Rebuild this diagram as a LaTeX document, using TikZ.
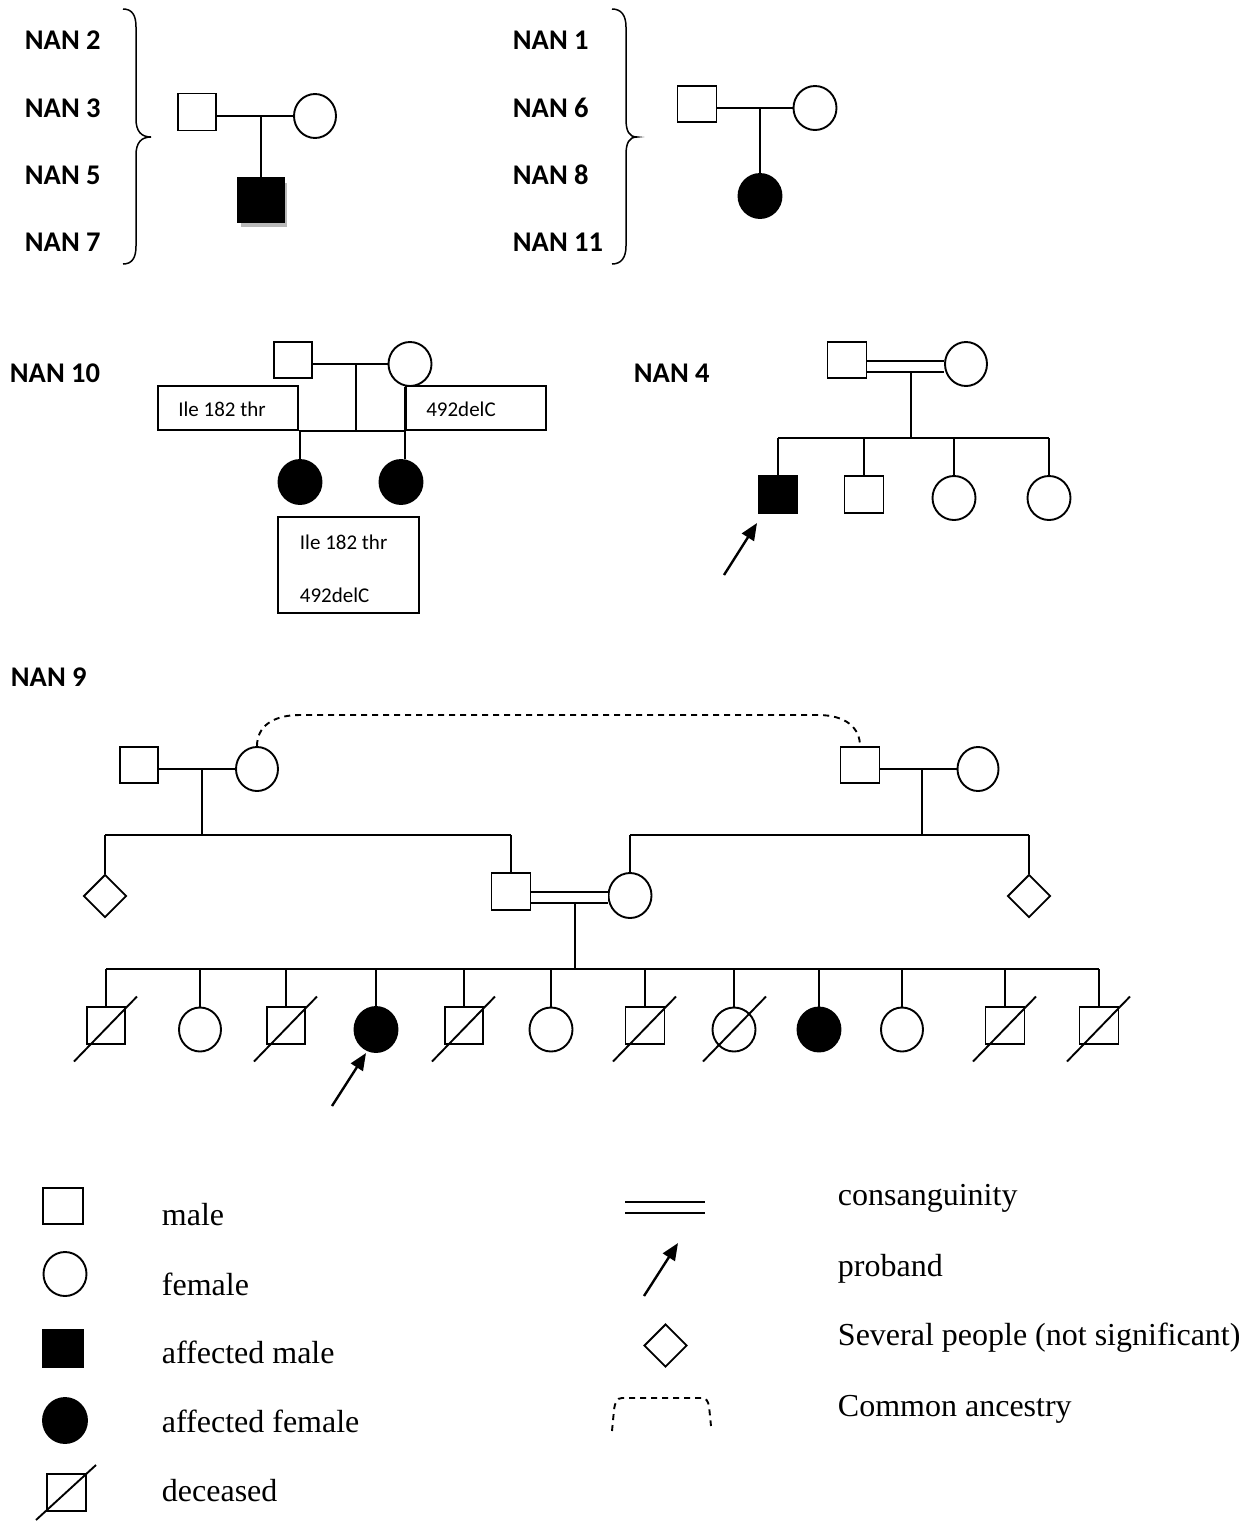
\documentclass[tikz,border=0pt]{standalone}
\usepackage{fontspec}
\setmainfont{Liberation Serif}
\newfontfamily\calfont{Carlito}
\usetikzlibrary{shapes.geometric,arrows.meta,calc}
\begin{document}
\begin{tikzpicture}[x=1pt,y=-1pt,line width=1.9pt,
 male/.style={draw,rectangle,minimum width=38pt,minimum height=37pt,inner sep=0pt},
 female/.style={draw,ellipse,minimum width=42pt,minimum height=44pt,inner sep=0pt},
 affected/.style={fill=black},
 several/.style={draw,diamond,minimum width=43pt,minimum height=43pt,inner sep=0pt},
 nanlabel/.style={font=\calfont\bfseries\fontsize{28.5}{32}\selectfont,anchor=west,inner sep=0pt},
 muttext/.style={font=\calfont\fontsize{21}{24}\selectfont,inner sep=0pt},
 mutbox/.style={draw,rectangle,inner sep=0pt},
 legtext/.style={font=\fontsize{32}{36}\selectfont,anchor=base west,inner sep=0pt},
 consang/.style={double,double distance=9pt},
 ancestry/.style={dash pattern=on 6pt off 5pt},
 proband/.style={-{Triangle[length=17pt,width=14pt]},line width=2.4pt},
 bracepath/.style={line width=1.5pt}
]
\useasboundingbox[fill=white] (0,0) rectangle (1257,1521);

% ---------- NAN 2 / 3 / 5 / 7 ----------
\node[nanlabel] (l2) at (24,40) {NAN 2};
\node[nanlabel] (l3) at (24,108) {NAN 3};
\node[nanlabel] (l5) at (24,175) {NAN 5};
\node[nanlabel] (l7) at (24,242) {NAN 7};
\draw[bracepath] (123,9) .. controls (132,9) and (136,15) .. (136,27) -- (136,119) .. controls (136,131) and (141,137) .. (151,137) .. controls (141,137) and (136,143) .. (136,155) -- (136,246) .. controls (136,258) and (132,264) .. (123,264);
\node[male] (m1) at (197,112) {};
\node[female] (f1) at (315,116) {};
\fill[gray!55] (241,183) rectangle (287,227);
\node[male,affected,minimum width=46pt,minimum height=44pt] (c1) at (261,200) {};
\draw (m1.east |- f1.west) -- (f1.west);
\draw (c1.north |- f1.west) -- (c1.north);

% ---------- NAN 1 / 6 / 8 / 11 ----------
\node[nanlabel] (l1) at (512,40) {NAN 1};
\node[nanlabel] (l6) at (512,108) {NAN 6};
\node[nanlabel] (l8) at (512,175) {NAN 8};
\node[nanlabel] (l11) at (512,242) {NAN 11};
\draw[bracepath] (612,9) .. controls (621,9) and (626,15) .. (626,27) -- (626,119) .. controls (626,131) and (629,137) .. (637,137) .. controls (629,137) and (626,143) .. (626,155) -- (626,246) .. controls (626,258) and (621,264) .. (612,264);
\node[male,minimum width=39pt,minimum height=36pt] (m2) at (697,104) {};
\node[female,minimum width=43pt] (f2) at (815,108) {};
\node[female,affected,minimum width=43pt] (c2) at (760,196) {};
\draw (m2.east |- f2.west) -- (f2.west);
\draw (c2.north |- f2.west) -- (c2.north);

% ---------- NAN 10 ----------
\node[nanlabel] (l10) at (9,373) {NAN 10};
\node[male,minimum height=36pt] (m3) at (293,360) {};
\node[female,minimum width=43pt] (f3) at (410,364) {};
\draw (m3.east |- f3.west) -- (f3.west);
\node[mutbox,minimum width=140pt,minimum height=44pt] (b3l) at (228,408) {};
\node[muttext] (t3l) at (222,409) {Ile 182 thr};
\node[mutbox,minimum width=140pt,minimum height=44pt] (b3r) at (476,408) {};
\node[muttext] (t3r) at (461,409) {492delC};
\coordinate (j3) at (356,364);
\draw (j3) -- (j3 |- b3l.south);
\draw (b3l.south east) -- (b3r.south west);
\node[female,affected,minimum width=43pt] (c3a) at (300,482) {};
\node[female,affected,minimum width=43pt] (c3b) at (401,482) {};
\draw (c3a.north |- b3l.south) -- (c3a.north);
\draw (b3r.west |- f3.south) -- (b3r.west |- c3b.north);
\node[mutbox,minimum width=141pt,minimum height=96pt] (b3c) at (348.5,565) {};
\node[muttext,anchor=west] (t3c1) at (299,542) {Ile 182 thr};
\node[muttext,anchor=west] (t3c2) at (299,595) {492delC};

% ---------- NAN 4 ----------
\node[nanlabel] (l4) at (633,373) {NAN 4};
\node[male,minimum width=39pt,minimum height=36pt] (m4) at (847,360) {};
\node[female] (f4) at (966,364) {};
\coordinate (k4) at ([yshift=-6.5pt]m4.east);
\draw[consang] (k4) -- (k4 -| f4.west);
\coordinate (j4) at (911,372);
\coordinate (s4) at (911,438);
\draw (j4) -- (s4);
\node[male,affected,minimum width=39pt] (c4a) at (778,494.5) {};
\node[male,minimum width=39pt] (c4b) at (864,494.5) {};
\node[female,minimum width=43pt] (c4c) at (954,498) {};
\node[female,minimum width=43pt] (c4d) at (1049,498) {};
\draw (c4a.north |- s4) -- (c4d.north |- s4);
\foreach \c in {c4a,c4b,c4c,c4d} \draw (\c.north |- s4) -- (\c.north);
\coordinate (p4a) at (724,575);
\coordinate (p4b) at (757,523);
\draw[proband] (p4a) -- (p4b);

% ---------- NAN 9 ----------
\node[nanlabel] (l9) at (10,677) {NAN 9};
\node[male,minimum height=36pt] (a1) at (139,765) {};
\node[female] (a2) at (257,769) {};
\draw (a1.east |- a2.west) -- (a2.west);
\coordinate (s1) at (202,835);
\draw (s1 |- a2.west) -- (s1);
\node[several] (d1) at (105,896) {};
\node[male,minimum width=39pt] (m9) at (511,891.5) {};
\draw (d1.north |- s1) -- (m9.north |- s1);
\draw (d1.north |- s1) -- (d1.north);
\draw (m9.north |- s1) -- (m9.north);
\node[female,minimum width=43pt,minimum height=45pt] (f9) at (630,895.5) {};
\node[male,minimum width=39pt,minimum height=36pt] (b1) at (860,765) {};
\node[female,minimum width=41pt] (b2) at (978,769) {};
\draw (b1.east |- b2.west) -- (b2.west);
\coordinate (s2) at (922,835);
\draw (s2 |- b2.west) -- (s2);
\node[several] (d2) at (1029,896) {};
\draw (f9.north |- s2) -- (d2.north |- s2);
\draw (f9.north |- s2) -- (f9.north);
\draw (d2.north |- s2) -- (d2.north);
\coordinate (k9) at ([yshift=-6pt]m9.east);
\draw[consang] (k9) -- (k9 -| f9.west);
\coordinate (j9) at (575,903);
\coordinate (s9) at (575,969);
\draw (j9) -- (s9);
\draw[ancestry] (a2.north) .. controls (257,727) and (272,715) .. (300,715) -- (818,715) .. controls (846,715) and (860,728) .. (b1.north);

\node[male] (n1) at (106,1025.5) {};
\node[female] (n2) at (200,1029.5) {};
\node[male] (n3) at (286,1025.5) {};
\node[female,affected,minimum width=43pt,minimum height=45pt] (n4) at (376,1029.5) {};
\node[male] (n5) at (464,1025.5) {};
\node[female,minimum width=43pt] (n6) at (551,1029.5) {};
\node[male,minimum width=39pt] (n7) at (645,1025.5) {};
\node[female,minimum width=43pt] (n8) at (734,1029.5) {};
\node[female,affected,minimum width=43pt] (n9) at (819,1029.5) {};
\node[female] (n10) at (902,1029.5) {};
\node[male,minimum width=39pt] (n11) at (1005,1025.5) {};
\node[male,minimum width=39pt] (n12) at (1099,1025.5) {};
\draw (n1.north |- s9) -- (n12.north |- s9);
\foreach \c in {n1,n2,n3,n4,n5,n6,n7,n8,n9,n10,n11,n12} \draw (\c.north |- s9) -- (\c.north);
\foreach \c in {n1,n3,n5,n7,n11,n12} \draw ([shift={(-32,36)}]\c.center) -- ([shift={(31,-29)}]\c.center);
\draw ([shift={(-31,32)}]n8.center) -- ([shift={(32,-33)}]n8.center);
\coordinate (p9a) at (332,1106);
\coordinate (p9b) at (366,1053);
\draw[proband] (p9a) -- (p9b);

% ---------- Legend ----------
\node[male,minimum width=40pt,minimum height=36pt] (lm) at (63,1206) {};
\node[legtext] (tm) at (161,1225) {male};
\node[female,minimum width=43pt] (lf) at (65,1274) {};
\node[legtext] (tf) at (161,1295) {female};
\node[male,affected,minimum width=40pt,minimum height=37pt] (lam) at (63,1348.5) {};
\node[legtext] (tam) at (161,1363) {affected male};
\node[female,affected,minimum width=44pt,minimum height=45pt] (laf) at (65,1420.5) {};
\node[legtext] (taf) at (161,1432) {affected female};
\node[male,minimum width=39pt,minimum height=37pt] (ld) at (66.5,1492.5) {};
\draw ([shift={(-30.5,27.5)}]ld.center) -- ([shift={(29.5,-27.5)}]ld.center);
\node[legtext] (td) at (161,1501) {deceased};

\coordinate (lc1) at (625,1207.5);
\coordinate (lc2) at (705,1207.5);
\draw[consang] (lc1) -- (lc2);
\node[legtext] (tc) at (837,1205) {consanguinity};
\coordinate (lp1) at (644,1296);
\coordinate (lp2) at (678,1243);
\draw[proband] (lp1) -- (lp2);
\node[legtext] (tp) at (837,1276) {proband};
\node[several] (ls) at (665.5,1345.5) {};
\node[legtext] (ts) at (837,1345) {Several people (not significant)};
\draw[ancestry] (612,1431) -- (614,1410) .. controls (615,1402) and (617,1398) .. (622,1398) -- (702,1398) .. controls (706,1398) and (708,1401) .. (709,1406) -- (711,1426);
\node[legtext] (ta) at (837,1416) {Common ancestry};
\end{tikzpicture}
\end{document}
